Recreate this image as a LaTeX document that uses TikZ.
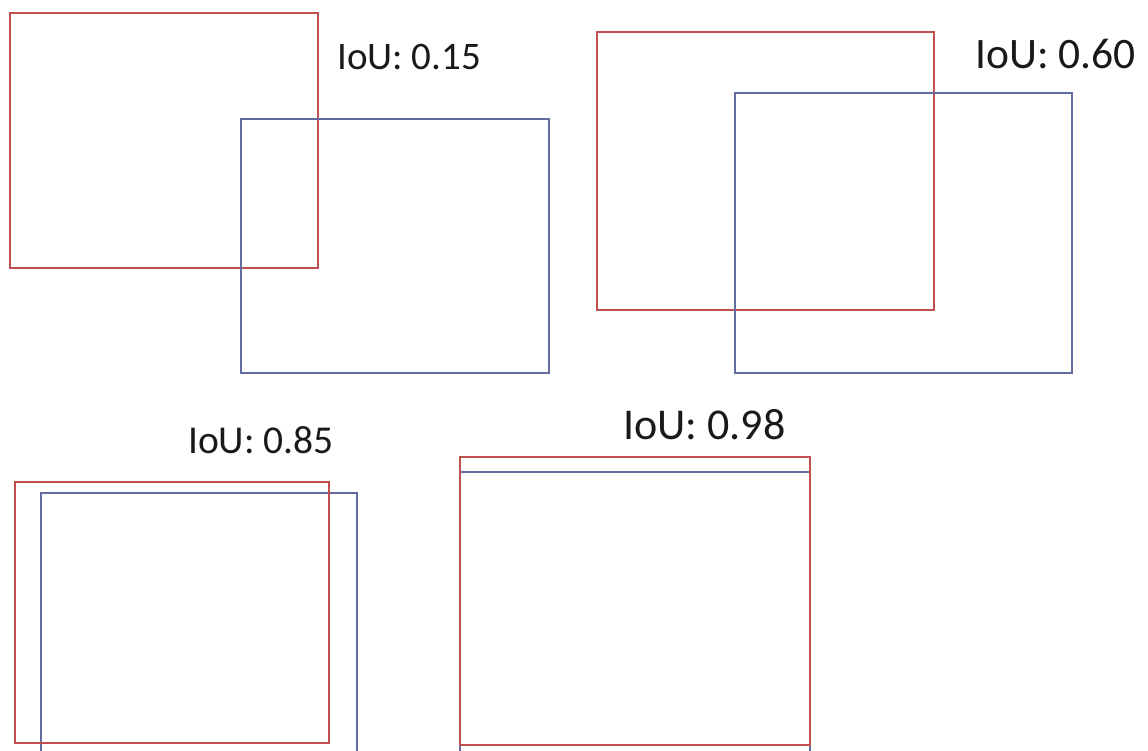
\documentclass[tikz,border=0pt]{standalone}
\usepackage{fontspec}
\setmainfont{Carlito}
\definecolor{boxred}{RGB}{192,80,77}
\definecolor{boxblue}{RGB}{98,108,160}
\tikzset{
  redbox/.style={draw=boxred, line width=2pt},
  bluebox/.style={draw=boxblue, line width=1.8pt},
  ioulabel/.style={anchor=base west, inner sep=0pt, text=black!90},
}
\begin{document}
\begin{tikzpicture}[x=1pt,y=-1pt]
\useasboundingbox (0,0) rectangle (1148,751);
% pair 1
\draw[redbox] (10,13) rectangle (318,268);
\draw[bluebox] (241,119) rectangle (549,373);
\node[ioulabel, font=\fontsize{39}{43}\selectfont] (l1) at (337,70) {IoU: 0.15};
% pair 2
\draw[redbox, line width=2.8pt] (597,32) rectangle (934,310);
\draw[bluebox] (735,93) rectangle (1072,373);
\node[ioulabel, font=\fontsize{43.5}{46}\selectfont] (l2) at (975,69) {IoU: 0.60};
% pair 3
\draw[bluebox] (41,751) -- (41,493) -- (357,493) -- (357,751);
\draw[redbox, line width=2.4pt] (15,482) rectangle (329,743);
\node[ioulabel, font=\fontsize{39.5}{43}\selectfont] (l3) at (188,453) {IoU: 0.85};
% pair 4
\draw[bluebox] (460,751) -- (460,472) -- (810,472) -- (810,751);
\draw[redbox, line width=2.4pt] (460,457) rectangle (810,745);
\node[ioulabel, font=\fontsize{44}{47}\selectfont] (l4) at (623,439) {IoU: 0.98};
\end{tikzpicture}
\end{document}
